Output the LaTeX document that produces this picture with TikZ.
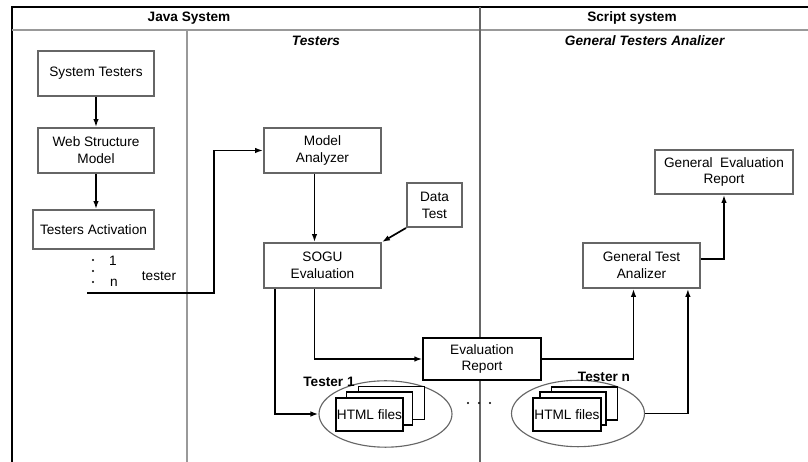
\documentclass[tikz,border=0pt]{standalone}
\usepackage{fontspec}
\setmainfont{Liberation Sans}
\usetikzlibrary{arrows.meta,shapes.geometric}
\definecolor{cinza}{rgb}{0.6,0.6,0.6}
\definecolor{cinzaesc}{rgb}{0.4,0.4,0.4}

\tikzset{
	caixa/.style={draw=cinzaesc, fill=white, line width=1.4pt, align=center, inner sep=0pt, minimum width=29.25mm, minimum height=11.25mm},
	folha/.style={draw=black, fill=white, line width=1pt, inner sep=0pt, minimum width=16.5mm, minimum height=8.25mm},
	elipse/.style={draw=cinzaesc, ellipse, line width=0.8pt, inner sep=0pt, minimum width=33.25mm, minimum height=16.6mm},
	seta/.style={line width=1.2pt, arrows=-{Latex[length=2mm,width=1.4mm]}}
}

\begin{document}
\begin{tikzpicture}[x=0.25mm, y=-0.25mm, font=\fontsize{9.7}{12}\selectfont]
			\useasboundingbox (0,0) rectangle (808,462);
			%Moldura
			\draw[line width=1.4pt] (12,462) -- (12,7) -- (808,7);
			\draw[cinza, line width=1.4pt] (12,30) -- (808,30);
			\draw[cinzaesc, line width=1.4pt] (480,7) -- (480,462);
			\draw[cinza, line width=2pt] (187,30) -- (187,462);
			\node (java) at (189,18) {\textbf{Java System}};
			\node (script) at (632,18) {\textbf{Script system}};
			\node (testers) at (316,41) {\textbf{\textit{Testers}}};
			\node (gta_tit) at (645,41) {\textbf{\textit{General Testers Analizer}}};
			
			%Java System
			\node[caixa, minimum width=29mm] (st) at (96,73.5) {System Testers};
			\node[caixa, minimum width=29mm] (web) at (96,150.5) {Web Structure\\Model};
			\node[caixa, minimum width=30.25mm, minimum height=9.75mm] (ta) at (93.5,229.5) {Testers Activation};
			\draw[seta] (st.south) -- (web.north);
			\draw[seta] (web.south) -- (web.south |- ta.north);
			
			%tester 1..n
			\fill (93,260) circle (1.2);
			\fill (93,271) circle (1.2);
			\fill (93,282) circle (1.2);
			\node (um) at (113,261) {1};
			\node (ene) at (114,283) {n};
			\node (tester) at (159,276) {tester};
			\coordinate (tini) at (87,293);
			\coordinate (tcanto) at (214,293);
			
			%Testers
			\node[caixa] (ma) at (322.5,150.5) {Model\\Analyzer};
			\node[caixa] (sogu) at (322.5,265.5) {SOGU\\Evaluation};
			\node[caixa, minimum width=13.75mm, minimum height=11mm] (dt) at (434.5,205) {Data\\Test};
			\draw[seta] (tini) -- (tcanto) |- (ma.west);
			\draw[seta] ([xshift=-2mm]ma.south) -- ([xshift=-2mm]sogu.north);
			\draw[seta] (dt.south west) -- (sogu.north east);
			
			%Tester 1
			\node[elipse] (el1) at (385.5,414) {};
			\node[folha] (f1c) at (391.5,403) {};
			\node[folha] (f1b) at (379.5,408.5) {};
			\node[folha, minimum width=16.75mm] (f1a) at (369.5,414.5) {HTML files};
			\node (t1) at (329,382) {\textbf{Tester 1}};
			
			%Tester n
			\node[elipse] (eln) at (578,413.5) {};
			\node[folha] (fnc) at (584.5,403.5) {};
			\node[folha] (fnb) at (573,408.5) {};
			\node[folha, minimum width=17mm] (fna) at (567,414.5) {HTML files};
			\node (tn) at (604,377) {\textbf{Tester n}};
			
			\fill (468,403) circle (1.2);
			\fill (479,403) circle (1.2);
			\fill (490,403) circle (1.2);
			
			%Relatorios
			\node[caixa, draw=black, line width=1pt, minimum width=29.5mm, minimum height=10.5mm] (er) at (482,359) {Evaluation\\Report};
			\node[caixa] (gta) at (641.5,265.5) {General Test\\Analizer};
			\node[caixa, minimum width=34.5mm, minimum height=11mm] (ger) at (724,172) {General~ Evaluation\\Report};
			
			\draw[seta] ([xshift=-11.9mm]sogu.south) |- (el1.west);
			\draw[seta] ([xshift=-2mm]sogu.south) |- (er.west);
			\draw[seta] (er.east) -| ([xshift=-2mm]gta.south);
			\draw[seta] (eln.east) -| ([xshift=11.6mm]gta.south);
			\draw[seta] ([yshift=1.6mm]gta.east) -| (ger.south);
		\end{tikzpicture}
\end{document}
